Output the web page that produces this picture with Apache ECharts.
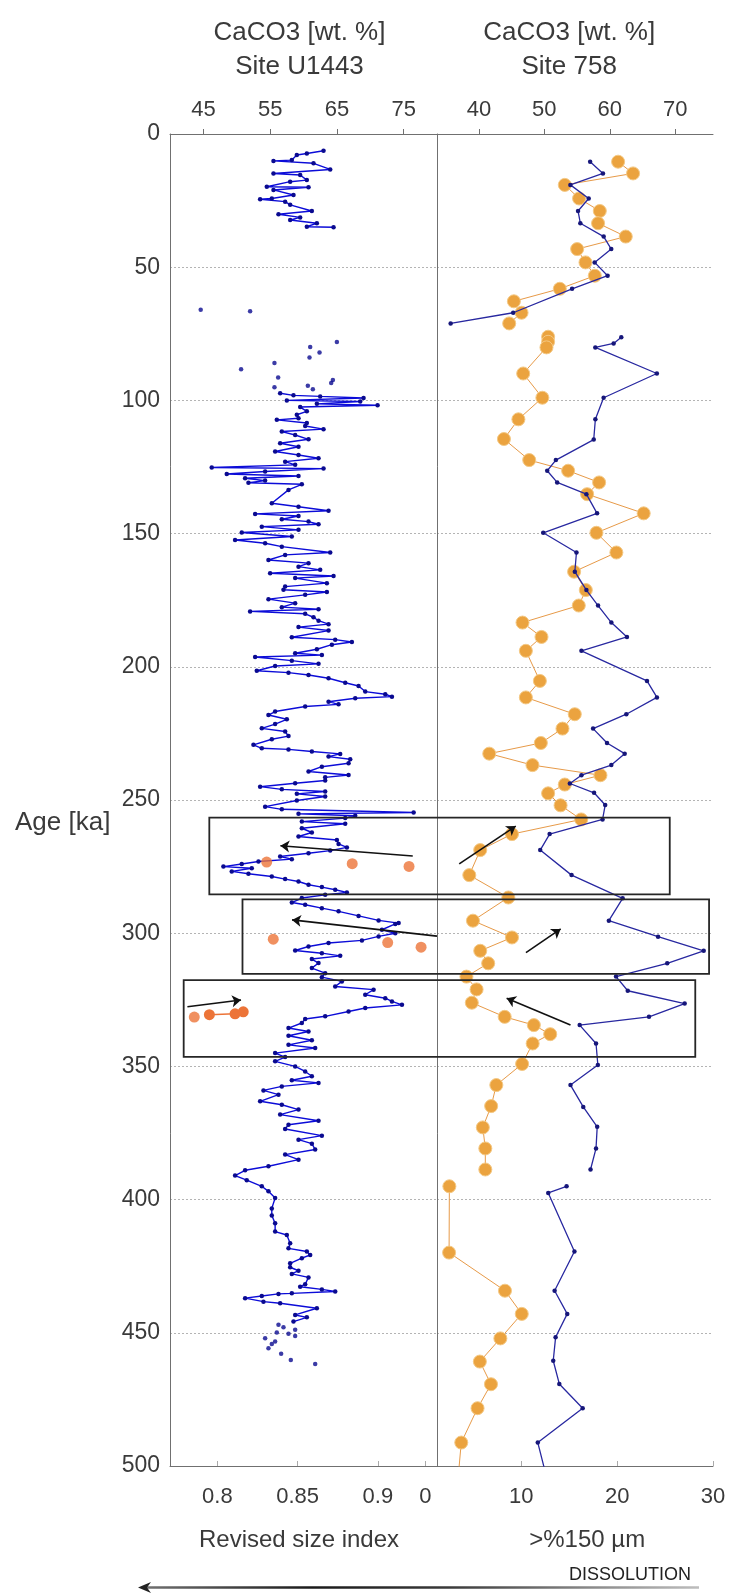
<!DOCTYPE html>
<html><head><meta charset="utf-8">
<script src="https://cdn.jsdelivr.net/npm/echarts@6/dist/echarts.min.js"></script>
<style>html,body{margin:0;padding:0;background:#fff}#c{width:732px;height:1594px}</style>
</head><body><div id="c"></div>
<script>
// ---------- DATA ([age ka, value]) ----------
const ageTicks = [0,50,100,150,200,250,300,350,400,450,500];
const u1443TopTicks = [45,55,65,75];
const sizeIndexTicks = [0.8,0.85,0.9];
const site758TopTicks = [40,50,60,70];
const coarseTicks = [0,10,20,30];

// Site U1443 CaCO3 [wt. %]
const u1443Upper = [[6.3,63],[7.3,60.5],[7.9,59],[9.8,58.25],[10.1,55.5],[11,61.5],[13.3,64],[14.8,55.5],[15.4,59.5],[17.3,60.5],[17.9,58],[19.8,54.5],[20,60.75],[21,55.5],[22.9,58.5],[24.2,55.25],[24.5,53.5],[25.4,57.25],[26.6,58],[28.9,61.25],[30.1,56.25],[31.3,59.5],[32.3,58],[33.5,62],[34.8,60.5],[35,64.5]];
const u1443Isolated = [[66,44.6],[66.5,52],[78.1,65],[80,61],[82,62.4],[83.9,60.9],[86,55.65],[88.3,50.65],[91.4,56.2],[92.3,64.4],[93.5,64.15],[94.5,60.65],[95.1,55.65],[95.8,61.4],
  [447,56.25],[447.9,57],[448.9,58.75],[449.9,56],[450.4,57.75],[451.2,58.75],[452,54.25],[453.3,55.75],[454.2,55.25],[455.8,54.75],[457.9,56.65],[460.2,58.1],[461.7,61.75]];
const u1443Main = [[97.3,56.5],[98.1,58.5],[98.5,62.5],[99.1,69],[100,57.5],[100.4,68.5],[101.3,62],[101.8,71.1],[102.5,59.5],[104.1,60.5],[105.4,59],[106.7,59.25],[107.3,56],[108.5,60.5],[109.6,60.25],[110.8,63],[111.7,56.75],[113,58.75],[114.6,60.75],[116.1,56.5],[117.4,59.25],[119.2,55.75],[120.5,59.25],[121.7,62.25],[123,57.25],[124.2,58.75],[125.2,46.25],[125.6,63],[126.7,54.25],[127.6,48.5],[128.4,59.25],[129.2,51.25],[130.1,54.25],[130.9,51.75],[131.5,59.75],[133.6,57.75],[138.6,55.25],[139.9,59.25],[141.4,63.75],[142.6,52.75],[143.4,59.25],[144.6,56.75],[145.5,60.75],[146.5,62.25],[147.4,53.75],[148.6,59.25],[149.6,50.75],[151.1,58.25],[152.4,49.75],[153.6,54.25],[154.9,56.75],[157.1,64],[158,57.25],[159.9,54.75],[161.1,60.75],[162.4,59.25],[163.6,62.5],[164.9,55],[165.9,64.5],[166.7,58.75],[168.6,63.5],[169.9,57.25],[171.1,57],[171.9,63.5],[173,60.25],[174.6,54.75],[176.1,58.75],[177.6,56.75],[178.4,62.25],[179.2,52],[180.1,60.25],[181.4,61.5],[182.7,62.25],[184,63.75],[185.1,59.25],[186.4,63.75],[188.9,58.25],[189.8,64.75],[190.7,67.25],[191.7,64.25],[193.4,62],[194.9,58.75],[195.6,62.75],[196.3,52.75],[197.7,58.25],[198.9,62.25],[199.7,55.75],[201.5,53],[202.2,57.75],[203.1,60.75],[204.3,63.75],[206,66.25],[207.2,68.25],[209.3,69.25],[210.3,72.25],[211.2,73.25],[211.8,67.75],[213.1,63.75],[214.1,65.25],[214.9,60.25],[216.8,55.75],[218.1,54.75],[219.7,57.5],[221.5,55.75],[223.1,53.75],[224.3,57.25],[226,57.75],[227.2,55.25],[229.3,52.5],[230.6,53.75],[231,57.75],[231.8,61.25],[232.7,65.5],[233.7,63.75],[234.7,67],[236.2,66.75],[237.5,62.75],[239.3,60.75],[240.6,66.75],[241.5,63.25],[242.7,63.25],[243.7,58.75],[245,53.5],[246,56.75],[246.8,63.25],[247.7,59],[248.7,63.25],[250.2,59],[252.5,54.25],[253.5,56.75],[254.7,76.5],[255.2,59.25],[255.9,67.75],[256.8,66.25],[258.1,59.75],[258.9,66.25],[260.6,59.75],[262.2,61.25],[263.7,59.25],[265,65],[266.5,65.25],[267.8,66.5],[269,64],[270,60.75],[271.2,56.5],[272.2,58.25],[273.1,53.25],[274,50.75],[275,48],[275.6,52.25],[276.8,49.25],[277.7,51.75],[278.7,55.25],[279.7,57.25],[280.6,59.25],[281.8,60.75],[282.7,62.75],[283.7,64.75],[284.7,66.5],[285.6,63.25],[286.8,59.75],[288.5,58.25],[289.3,60.25],[290.6,62.75],[291.8,65.25],[293.5,68.25],[295.2,71.25],[296.2,74.25],[296.5,73.75],[298.7,71.75],[300,73.75],[301.2,71.25],[302.7,68.75],[303.7,63.75],[305,60.75],[306.5,58.75],[307.5,62.75],[308.5,65.5],[309.7,61.25],[311.2,62.25],[313.1,61.25],[315,63.25],[316.5,62.75],[318.1,65.75],[320,64.75],[321.2,70.5],[323.1,69.25],[324.4,72.25],[325.6,73.25],[326.9,74.75],[328.1,69.25],[329.4,66.75],[331.2,63.25],[332.2,60.25],[333.7,59.75],[335.6,57.75],[336.9,60.75],[338.5,57.75],[340.2,61.25],[341.9,57.75],[343.1,61.75],[345,55.75],[346.5,57.25],[348.1,55.75],[350,58.75],[351.9,60.25],[353.7,61.25],[355.2,58.25],[356.2,62.25],[357.5,56.75],[359,54],[360.6,56.25],[363.1,53.5],[364.4,56.75],[366.2,59.25],[368.1,56.5],[370.4,62.25],[371.9,57.75],[373.5,57.25],[376,62.75],[377.5,59.25],[379,61.25],[381.2,61.75],[383.1,57.25],[385,59.25],[387.5,54.75],[389,51.25],[391,49.75],[392.7,51.5],[395,53.75],[396.9,54.75],[399.4,55.75],[403.3,55.25],[406,55.25],[408.9,55.75],[412,55.75],[413.3,57.5],[416.4,58],[418.3,57.75],[419.5,60.5],[420.8,61],[422,59.75],[423.9,58],[425.4,58],[426.7,59.25],[427.9,58.25],[429.2,60.75],[431.8,60.25],[432.7,59.5],[433.7,62.75],[434.5,64.75],[435.2,58.25],[435.4,56.25],[436.2,53.75],[437,51.25],[438.3,54],[438.9,56.5],[440.8,62],[443.3,58.75],[444.2,60.5],[445.8,58.5]];

// Revised size index (U1443)
const sizeIndexSingles = [[273.3,0.8307],[273.9,0.884],[274.95,0.9194],[302.25,0.8348],[303.5,0.9061],[305.25,0.9269],[331.5,0.7856]];
const sizeIndexRun = [[330.6,0.795],[330.25,0.811],[329.5,0.8161]];

// Site 758 >150 um [%]
const coarseA = [[10.4,20.1],[14.8,21.66],[19.1,14.54],[24.2,16.03],[28.9,18.19],[33.5,18.01],[38.5,20.9],[43.2,15.83],[48.2,16.7],[53.2,17.67],[58.1,14.02],[62.8,9.23],[67.1,10.03],[71.1,8.74]];
const coarseB = [[76.1,12.8],[78,12.8],[80.1,12.63],[89.9,10.2],[99,12.2],[107.1,9.7],[114.5,8.19],[122.4,10.83],[126.4,14.89],[130.8,18.12],[135.2,16.87],[142.4,22.77],[149.7,17.84],[157.1,19.92],[164.3,15.51],[171.2,16.73],[177,16],[183.4,10.13],[188.8,12.11],[194,10.48],[205.3,11.94],[211.5,10.48],[217.8,15.58],[223.2,14.3],[228.6,12.04],[232.6,6.66],[236.9,11.17],[240.7,18.26],[244.2,14.54],[247.5,12.8],[252,14.1],[257.3,16.25],[262.8,9.03],[268.8,5.72],[278.2,4.58],[286.6,8.65],[295.3,4.96],[301.6,9.03],[306.6,5.72],[311.3,6.55],[316.3,4.28],[321.1,5.34],[326.1,4.84],[331.4,8.27],[334.5,11.31],[337.9,13.02],[341.4,11.19],[349.1,10.09],[357,7.4],[364.9,6.86],[372.9,5.99],[380.8,6.25],[388.7,6.25]];
const coarseC = [[395,2.5],[419.9,2.47],[434.2,8.3],[442.9,10.05],[452.1,7.82],[460.8,5.68],[469.3,6.84],[478.3,5.44],[491.2,3.74],[505,3.4]];

// Site 758 CaCO3 [wt. %]
const caco758A = [[10.4,57],[14.8,58.96],[19.1,53.98],[24.2,56.78],[28.9,55.15],[33.5,55.5],[38.5,59.07],[43.2,60.23],[48.2,57.69],[53.2,59.67],[58.1,54.24],[67.1,45.24],[71.1,35.68]];
const caco758B = [[76.3,61.76],[78.6,60.59],[80.1,57.79],[89.9,67.2],[99,59.06],[107.1,57.8],[114.7,57.55],[122.4,51.76],[126.4,50.44],[130.8,51.96],[135.2,56.43],[142.4,58.06],[149.7,49.83],[157.1,54.91],[164.3,54.66],[171.2,56.43],[177,58.21],[183.4,60.24],[188.8,62.63],[194,55.67],[205.3,65.69],[211.5,67.21],[217.8,62.53],[223.2,57.45],[228.6,59.58],[232.6,62.28],[236.9,60.24],[240.7,55.67],[243.8,53.9],[247.3,57.6],[251.9,59.3],[257.3,58.9],[262.8,50.81],[268.8,49.37],[278.2,54.16],[286.9,61.97],[295.3,59.86],[301.3,67.38],[306.6,74.36],[311.3,68.78],[316.3,60.96],[321.6,62.75],[326.4,71.45],[331.4,66],[334.5,55.4],[341.4,57.9],[349.5,58.18],[357,54],[365.2,55.95],[372.7,58.08],[380.8,57.9],[388.7,57.06]];
const caco758C = [[395,53.4],[397.5,50.6],[419.5,54.6],[434.2,51.57],[442.9,53.5],[451.7,51.72],[460.5,51.36],[469.2,52.29],[478.3,55.86],[491.2,49],[500.3,49.94],[505,50.5]];

// Boxes: [age top, age bottom, left edge (U1443 CaCO3 units), right edge (Site 758 CaCO3 units)]
const boxes = [[256.6,285.4,45.89,69.17],[287.3,315.3,50.86,75.18],[317.6,346.4,42.05,73.07]];
// Arrows: [[age, value] start, [age, value] end]
const arrowsLeft = [[[271.0,76.37],[267.2,56.54]],[[301.1,80],[295.0,58.28]],[[327.6,42.61],[325.1,50.64]]];
const arrowsRight = [[[274.0,36.99],[259.8,45.63]],[[307.3,47.19],[298.4,52.5]],[[334.5,54.0],[324.4,44.24]]];

// ---------- CHART ----------
const FONT = '"Liberation Sans", Arial, Helvetica, sans-serif';
const TXT = '#3a3a3a', AX = '#707070';
const flip = a => a.map(p => [p[1], p[0]]);
const chart = echarts.init(document.getElementById('c'), null, {renderer: 'canvas'});

const TOP = 134, H = 1332;
const lbl = (extra) => Object.assign({color: TXT, fontSize: 22, fontFamily: FONT}, extra || {});
const blueL = {type:'line', xAxisIndex:0, yAxisIndex:0, symbol:'circle', symbolSize:4.5, showSymbol:true,
  lineStyle:{color:'#0c0cd8', width:1.4}, itemStyle:{color:'#0a0a90'}, z:3, animation:false};
const orangeR = {type:'line', xAxisIndex:4, yAxisIndex:2, symbol:'circle', symbolSize:13,
  lineStyle:{color:'#e79a48', width:1}, itemStyle:{color:'#eba33f', borderColor:'#f4c985', borderWidth:1}, z:3, animation:false};
const blueR = {type:'line', xAxisIndex:3, yAxisIndex:2, symbol:'circle', symbolSize:4.5,
  lineStyle:{color:'#2828a0', width:1.3}, itemStyle:{color:'#16167a'}, z:4, animation:false};

const option = {
  backgroundColor: '#fff',
  animation: false,
  grid: [
    {left:170, width:267, top:TOP, height:H},
    {left:437, width:276, top:TOP, height:H},
    {left:425.4, width:287.6, top:TOP, height:H}
  ],
  xAxis: [
    {gridIndex:0, type:'value', position:'top', min:40, max:80,
     axisLine:{show:true, lineStyle:{color:AX}},
     axisTick:{show:true, customValues:u1443TopTicks, length:5, lineStyle:{color:AX}},
     axisLabel:lbl({customValues:u1443TopTicks, margin:13}),
     splitLine:{show:false},
     name:'CaCO3 [wt. %]\nSite U1443', nameLocation:'middle', nameGap:50,
     nameTextStyle:{color:TXT, fontSize:26, lineHeight:34, fontFamily:FONT, padding:[0,8,0,0]}},
    {gridIndex:0, type:'value', position:'bottom', min:0.77047, max:0.93682,
     axisLine:{show:true, lineStyle:{color:AX}},
     axisTick:{show:true, inside:true, customValues:sizeIndexTicks, length:5, lineStyle:{color:'#aaa'}},
     axisLabel:lbl({customValues:sizeIndexTicks, margin:20}),
     splitLine:{show:false},
     name:'Revised size index', nameLocation:'middle', nameGap:62,
     nameTextStyle:{color:TXT, fontSize:24, fontFamily:FONT, padding:[0,9,0,0]}},
    {gridIndex:1, type:'value', min:0, max:1, show:false},
    {gridIndex:2, type:'value', position:'top', min:31.82, max:75.78,
     axisLine:{show:true, lineStyle:{color:AX}},
     axisTick:{show:true, customValues:site758TopTicks, length:5, lineStyle:{color:AX}},
     axisLabel:lbl({customValues:site758TopTicks, margin:13}),
     splitLine:{show:false},
     name:'CaCO3 [wt. %]\nSite 758', nameLocation:'middle', nameGap:50,
     nameTextStyle:{color:TXT, fontSize:26, lineHeight:34, fontFamily:FONT}},
    {gridIndex:2, type:'value', position:'bottom', min:0, max:30, interval:10,
     axisLine:{show:true, lineStyle:{color:AX}},
     axisTick:{show:true, inside:true, customValues:coarseTicks, length:5, lineStyle:{color:'#aaa'}},
     axisLabel:lbl({customValues:coarseTicks, margin:20}),
     splitLine:{show:false},
     name:'>%150 µm', nameLocation:'middle', nameGap:62,
     nameTextStyle:{color:TXT, fontSize:24, fontFamily:FONT, padding:[0,0,0,36]}}
  ],
  yAxis: [
    {gridIndex:0, type:'value', inverse:true, min:0, max:500, interval:50,
     axisLine:{show:true, lineStyle:{color:AX}}, axisTick:{show:false},
     axisLabel:lbl({fontSize:23, margin:10}),
     splitLine:{show:true, showMinLine:false, showMaxLine:false, lineStyle:{type:[2,2], color:'#b4b4b4'}}},
    {gridIndex:1, type:'value', inverse:true, min:0, max:500, interval:50,
     axisLine:{show:true, lineStyle:{color:AX}}, axisTick:{show:false}, axisLabel:{show:false},
     splitLine:{show:true, showMinLine:false, showMaxLine:false, lineStyle:{type:[2,2], color:'#b4b4b4'}}},
    {gridIndex:2, type:'value', inverse:true, min:0, max:500, show:false}
  ],
  series: [
    Object.assign({}, blueL, {name:'U1443 CaCO3 a', data:flip(u1443Upper)}),
    Object.assign({}, blueL, {name:'U1443 CaCO3 b', data:flip(u1443Main)}),
    {type:'scatter', name:'U1443 CaCO3 c', xAxisIndex:0, yAxisIndex:0, symbolSize:4.5, itemStyle:{color:'#0a0a90'}, data:flip(u1443Isolated), z:3},
    {type:'scatter', name:'size index', xAxisIndex:1, yAxisIndex:0, symbolSize:11, itemStyle:{color:'#ec7438'}, data:flip(sizeIndexSingles), z:5},
    {type:'line', name:'size index run', xAxisIndex:1, yAxisIndex:0, symbol:'circle', symbolSize:11, lineStyle:{color:'#ec7438', width:1.5}, itemStyle:{color:'#ec7438'}, data:flip(sizeIndexRun), z:5},
    Object.assign({}, orangeR, {name:'758 coarse a', data:flip(coarseA)}),
    Object.assign({}, orangeR, {name:'758 coarse b', data:flip(coarseB)}),
    Object.assign({}, orangeR, {name:'758 coarse c', data:flip(coarseC)}),
    Object.assign({}, blueR, {name:'758 CaCO3 a', data:flip(caco758A)}),
    Object.assign({}, blueR, {name:'758 CaCO3 b', data:flip(caco758B)}),
    Object.assign({}, blueR, {name:'758 CaCO3 c', data:flip(caco758C)}),
    {type:'lines', coordinateSystem:'cartesian2d', xAxisIndex:0, yAxisIndex:0, symbol:['none','arrow'], symbolSize:9,
     lineStyle:{color:'#111', width:1.6, opacity:1}, z:10,
     data: arrowsLeft.map(a => ({coords: flip(a)}))},
    {type:'lines', coordinateSystem:'cartesian2d', xAxisIndex:3, yAxisIndex:2, symbol:['none','arrow'], symbolSize:9,
     lineStyle:{color:'#111', width:1.6, opacity:1}, z:10,
     data: arrowsRight.map(a => ({coords: flip(a)}))}
  ]
};
chart.setOption(option);

// Boxes and decorations
const gfx = [];
boxes.forEach(b => {
  const p1 = chart.convertToPixel({xAxisIndex:0, yAxisIndex:0}, [b[2], b[0]]);
  const p2 = chart.convertToPixel({xAxisIndex:3, yAxisIndex:2}, [b[3], b[1]]);
  gfx.push({type:'rect', z:50, shape:{x:p1[0], y:p1[1], width:p2[0]-p1[0], height:p2[1]-p1[1]},
    style:{fill:'none', stroke:'#262626', lineWidth:1.8}});
});
gfx.push({type:'text', z:50, style:{text:'Age [ka]', x:15, y:823, fill:TXT, font:'26px ' + FONT, textAlign:'left', align:'left', textVerticalAlign:'middle', verticalAlign:'middle'}});
gfx.push({type:'text', z:50, style:{text:'DISSOLUTION', x:569, y:1575, fill:'#222', font:'18px ' + FONT, textAlign:'left', align:'left', textVerticalAlign:'middle', verticalAlign:'middle'}});
gfx.push({type:'rect', z:50, shape:{x:146, y:1586.3, width:553, height:2.4},
  style:{fill:new echarts.graphic.LinearGradient(146,0,699,0,[
    {offset:0, color:'#707070'},{offset:0.3, color:'#1a1a1a'},{offset:0.55, color:'#3a3a3a'},{offset:0.8, color:'#888'},{offset:1, color:'#bdbdbd'}], true)}});
gfx.push({type:'polygon', z:51, shape:{points:[[138,1587.5],[151,1582],[147,1587.5],[151,1593]]}, style:{fill:'#222'}});
chart.setOption({graphic: gfx});
</script>
</body></html>
